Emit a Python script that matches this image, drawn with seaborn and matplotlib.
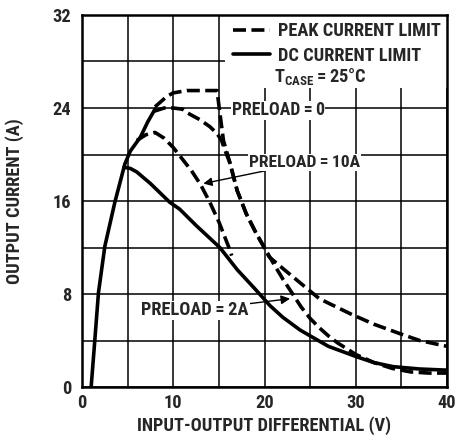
"""Current limit vs input-output differential, redrawn from a datasheet figure."""

import matplotlib

matplotlib.use("Agg")
import matplotlib.pyplot as plt
import seaborn as sns
from matplotlib import font_manager
from matplotlib.lines import Line2D
from matplotlib.patches import Rectangle

# common rising section (solid)
rise_x = [1.0, 1.4, 1.8, 2.5, 3.6, 4.7, 5.3, 6.4, 7.2, 8.0]
rise_y = [0.0, 4.0, 8.1, 12.1, 15.9, 19.2, 20.3, 21.5, 22.8, 23.9]

# DC current limit, lower branch (solid)
dc_x = [4.6, 5.3, 6.0, 7.5, 9.6, 10.7, 12.5, 15.1, 17.0, 19.0, 19.8, 20.6,
        22.0, 23.9, 25.0, 27.0, 30.1, 32.0, 34.1, 37.0, 40.0]
dc_y = [18.9, 18.8, 18.5, 17.5, 15.9, 15.3, 13.9, 12.0, 10.1, 8.4, 7.7, 7.0,
        6.0, 4.9, 4.4, 3.5, 2.6, 2.1, 1.75, 1.55, 1.45]

# peak current limit, preload = 0, upper plateau (dashed)
peak0_x = [8.0, 9.3, 10.0, 11.5, 13.0, 14.8, 15.1, 15.5, 16.2, 17.0, 18.0,
           19.1, 19.9, 20.5, 22.0, 24.0, 26.0, 29.4, 32.0, 34.8, 37.0, 40.0]
peak0_y = [24.1, 25.0, 25.3, 25.5, 25.5, 25.5, 23.6, 21.2, 19.3, 16.9, 14.9,
           13.2, 12.1, 11.2, 10.2, 8.9, 7.6, 6.3, 5.4, 4.6, 4.0, 3.5]

# second preload = 0 curve, 24 A plateau (dashed)
peak0b_x = [7.8, 9.0, 10.0, 11.0, 11.5, 12.9, 14.0, 14.8, 15.3, 15.6, 16.2,
            17.0, 18.0, 19.1, 19.9, 21.0, 22.0, 23.0, 24.0, 25.0, 26.0, 27.0,
            28.0, 30.0, 32.0, 34.0, 36.0, 38.0, 40.0]
peak0b_y = [23.7, 24.0, 24.0, 23.9, 23.6, 23.0, 22.4, 21.8, 21.2, 20.5, 19.3,
            16.9, 14.9, 13.2, 12.1, 10.6, 9.3, 8.1, 6.9, 5.9, 5.1, 4.4,
            3.8, 2.8, 2.1, 1.6, 1.3, 1.2, 1.2]

# preload = 10 A (dashed)
peak10_x = [6.0, 7.0, 8.0, 9.0, 10.0, 11.0, 12.0, 13.0, 14.0, 15.0, 16.0, 16.4]
peak10_y = [21.2, 21.7, 21.9, 21.4, 20.6, 19.6, 18.6, 17.4, 15.9, 14.2, 12.2, 11.3]

x_ticks = [0, 10, 20, 30, 40]
y_ticks = [0, 8, 16, 24, 32]

sns.set_theme(style="white")
names = {f.name for f in font_manager.fontManager.ttflist}
narrow = [n for n in ["Liberation Sans Narrow", "Roboto Condensed",
                      "Open Sans Condensed", "Noto Sans Condensed"] if n in names]
FAMILY = narrow[0] if narrow else "Roboto"
FS = 13.2 if narrow else 11.5
plt.rcParams["font.family"] = [FAMILY, "DejaVu Sans"]
plt.rcParams["font.weight"] = "bold"
plt.rcParams["axes.labelweight"] = "bold"
plt.rcParams["mathtext.fontset"] = "custom"
plt.rcParams["mathtext.rm"] = FAMILY + ":bold"
plt.rcParams["mathtext.it"] = FAMILY + ":bold"

LW = 2.6
DASH = (0, (3.6, 1.5))
SP = "\u2009"

fig = plt.figure(figsize=(4.73, 4.45), dpi=100)
ax = fig.add_axes([0.1734, 0.1303, 0.7717, 0.836])

sns.lineplot(x=rise_x, y=rise_y, sort=False, estimator=None, color="black",
             linewidth=LW, ax=ax)
sns.lineplot(x=dc_x, y=dc_y, sort=False, estimator=None, color="black",
             linewidth=LW, ax=ax)
for xs, ys in [(peak0_x, peak0_y), (peak0b_x, peak0b_y), (peak10_x, peak10_y)]:
    sns.lineplot(x=xs, y=ys, sort=False, estimator=None, color="black",
                 linewidth=LW, linestyle=DASH, ax=ax)

ax.set_xlim(0, 40)
ax.set_ylim(0, 32)
ax.set_xticks(x_ticks)
ax.set_yticks(y_ticks)
ax.set_xticks(range(0, 41, 5), minor=True)
ax.set_yticks(range(0, 33, 4), minor=True)
ax.grid(which="both", color="black", linewidth=1.1)
ax.set_axisbelow(True)
ax.tick_params(which="both", length=0)
ax.tick_params(axis="x", pad=5)
ax.tick_params(axis="y", pad=8)
for lab in ax.get_xticklabels() + ax.get_yticklabels():
    lab.set_fontsize(FS)
    lab.set_fontweight("bold")
for sp in ax.spines.values():
    sp.set_color("black")
    sp.set_linewidth(1.8)

# white area behind the legend block
ax.add_patch(Rectangle((15.7, 25.7), 24.3, 6.3, facecolor="white",
                       edgecolor="none", zorder=1))

handles = [
    Line2D([], [], color="black", linewidth=LW, linestyle=DASH),
    Line2D([], [], color="black", linewidth=LW),
]
ax.legend(handles, ["PEAK CURRENT LIMIT", "DC CURRENT LIMIT"],
          loc="upper left", bbox_to_anchor=(0.414, 0.98), frameon=False,
          borderpad=0, borderaxespad=0, handlelength=2.0, handletextpad=0.45,
          labelspacing=0.35, fontsize=FS)
ax.text(21.0, 26.7, f"T$_{{\\mathrm{{CASE}}}}${SP}={SP}25°C", fontsize=FS,
        ha="left", va="center")

box = dict(facecolor="white", edgecolor="none", pad=0.5)
ax.text(21.5, 23.8, f"PRELOAD{SP}={SP}0", fontsize=FS - 0.4, ha="center",
        va="center", bbox=box)
ax.annotate(f"PRELOAD{SP}={SP}10A", xy=(13.3, 17.5), xytext=(24.4, 19.3),
            fontsize=FS - 0.6, ha="center", va="center", bbox=box,
            arrowprops=dict(arrowstyle="-|>", color="black", lw=1,
                            shrinkA=0, shrinkB=0))
ax.annotate(f"PRELOAD{SP}={SP}2A", xy=(22.8, 7.6), xytext=(12.4, 6.6),
            fontsize=FS, ha="center", va="center", bbox=box,
            arrowprops=dict(arrowstyle="-|>", color="black", lw=1,
                            shrinkA=0, shrinkB=0))

ax.set_xlabel("INPUT-OUTPUT DIFFERENTIAL (V)", fontsize=FS, labelpad=3)
ax.set_ylabel("OUTPUT CURRENT (A)", fontsize=FS)
ax.yaxis.set_label_coords(-0.16, 0.5)

fig.savefig("out.png", dpi=100)
